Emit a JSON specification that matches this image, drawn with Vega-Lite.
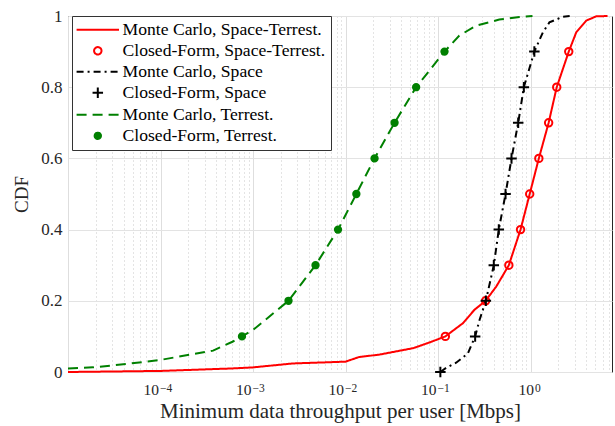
{
  "$schema": "https://vega.github.io/schema/vega-lite/v6.json",
  "width": 544,
  "height": 356,
  "autosize": {"type": "none"},
  "padding": {"left": 68, "top": 16, "right": 3, "bottom": 54},
  "background": "white",
  "config": {
    "font": "Liberation Serif",
    "view": {"stroke": "#262626", "strokeWidth": 1},
    "axis": {"labelFont": "Liberation Serif", "titleFont": "Liberation Serif", "labelColor": "#262626", "titleColor": "#262626", "titleFontWeight": "normal", "domain": false},
    "legend": {"orient": "none", "legendX": 4, "legendY": 0, "labelFont": "Liberation Serif", "labelFontSize": 17.6, "labelColor": "#000000", "symbolStrokeWidth": 2, "strokeColor": "#333333", "fillColor": "white", "padding": 5, "rowPadding": 2, "symbolOffset": 12, "labelOffset": 16, "labelLimit": 400}
  },
  "datasets": {
    "mc": [
      {"series": "Monte Carlo, Space-Terrest.", "x": 0.00001, "y": 0},
      {"series": "Monte Carlo, Space-Terrest.", "x": 0.0001, "y": 0.003},
      {"series": "Monte Carlo, Space-Terrest.", "x": 0.0006, "y": 0.01},
      {"series": "Monte Carlo, Space-Terrest.", "x": 0.001, "y": 0.013},
      {"series": "Monte Carlo, Space-Terrest.", "x": 0.0027, "y": 0.024},
      {"series": "Monte Carlo, Space-Terrest.", "x": 0.01, "y": 0.029},
      {"series": "Monte Carlo, Space-Terrest.", "x": 0.014, "y": 0.042},
      {"series": "Monte Carlo, Space-Terrest.", "x": 0.0234, "y": 0.049},
      {"series": "Monte Carlo, Space-Terrest.", "x": 0.054, "y": 0.067},
      {"series": "Monte Carlo, Space-Terrest.", "x": 0.081, "y": 0.083},
      {"series": "Monte Carlo, Space-Terrest.", "x": 0.12, "y": 0.1},
      {"series": "Monte Carlo, Space-Terrest.", "x": 0.186, "y": 0.137},
      {"series": "Monte Carlo, Space-Terrest.", "x": 0.248, "y": 0.175},
      {"series": "Monte Carlo, Space-Terrest.", "x": 0.327, "y": 0.2},
      {"series": "Monte Carlo, Space-Terrest.", "x": 0.426, "y": 0.24},
      {"series": "Monte Carlo, Space-Terrest.", "x": 0.583, "y": 0.3},
      {"series": "Monte Carlo, Space-Terrest.", "x": 0.78, "y": 0.4},
      {"series": "Monte Carlo, Space-Terrest.", "x": 0.98, "y": 0.5},
      {"series": "Monte Carlo, Space-Terrest.", "x": 1.23, "y": 0.6},
      {"series": "Monte Carlo, Space-Terrest.", "x": 1.57, "y": 0.7},
      {"series": "Monte Carlo, Space-Terrest.", "x": 1.92, "y": 0.8},
      {"series": "Monte Carlo, Space-Terrest.", "x": 2.59, "y": 0.9},
      {"series": "Monte Carlo, Space-Terrest.", "x": 3.12, "y": 0.954},
      {"series": "Monte Carlo, Space-Terrest.", "x": 4.0, "y": 0.987},
      {"series": "Monte Carlo, Space-Terrest.", "x": 5.13, "y": 0.999},
      {"series": "Monte Carlo, Space-Terrest.", "x": 6.8, "y": 1.0},
      {"series": "Monte Carlo, Space", "x": 0.106, "y": 0},
      {"series": "Monte Carlo, Space", "x": 0.123, "y": 0.012},
      {"series": "Monte Carlo, Space", "x": 0.157, "y": 0.026},
      {"series": "Monte Carlo, Space", "x": 0.21, "y": 0.052},
      {"series": "Monte Carlo, Space", "x": 0.252, "y": 0.1},
      {"series": "Monte Carlo, Space", "x": 0.281, "y": 0.146},
      {"series": "Monte Carlo, Space", "x": 0.329, "y": 0.2},
      {"series": "Monte Carlo, Space", "x": 0.401, "y": 0.3},
      {"series": "Monte Carlo, Space", "x": 0.454, "y": 0.4},
      {"series": "Monte Carlo, Space", "x": 0.537, "y": 0.5},
      {"series": "Monte Carlo, Space", "x": 0.623, "y": 0.6},
      {"series": "Monte Carlo, Space", "x": 0.736, "y": 0.7},
      {"series": "Monte Carlo, Space", "x": 0.847, "y": 0.8},
      {"series": "Monte Carlo, Space", "x": 1.1, "y": 0.9},
      {"series": "Monte Carlo, Space", "x": 1.36, "y": 0.954},
      {"series": "Monte Carlo, Space", "x": 1.6, "y": 0.982},
      {"series": "Monte Carlo, Space", "x": 2.24, "y": 0.998},
      {"series": "Monte Carlo, Space", "x": 2.65, "y": 1.0},
      {"series": "Monte Carlo, Terrest.", "x": 0.00001, "y": 0.01},
      {"series": "Monte Carlo, Terrest.", "x": 0.0000186, "y": 0.013},
      {"series": "Monte Carlo, Terrest.", "x": 0.000043, "y": 0.0225},
      {"series": "Monte Carlo, Terrest.", "x": 0.0001, "y": 0.034},
      {"series": "Monte Carlo, Terrest.", "x": 0.00037, "y": 0.06},
      {"series": "Monte Carlo, Terrest.", "x": 0.0006, "y": 0.085},
      {"series": "Monte Carlo, Terrest.", "x": 0.00076, "y": 0.1},
      {"series": "Monte Carlo, Terrest.", "x": 0.001, "y": 0.118},
      {"series": "Monte Carlo, Terrest.", "x": 0.00242, "y": 0.2},
      {"series": "Monte Carlo, Terrest.", "x": 0.00474, "y": 0.3},
      {"series": "Monte Carlo, Terrest.", "x": 0.0083, "y": 0.4},
      {"series": "Monte Carlo, Terrest.", "x": 0.0131, "y": 0.5},
      {"series": "Monte Carlo, Terrest.", "x": 0.0206, "y": 0.6},
      {"series": "Monte Carlo, Terrest.", "x": 0.0339, "y": 0.7},
      {"series": "Monte Carlo, Terrest.", "x": 0.058, "y": 0.8},
      {"series": "Monte Carlo, Terrest.", "x": 0.1175, "y": 0.9},
      {"series": "Monte Carlo, Terrest.", "x": 0.17, "y": 0.945},
      {"series": "Monte Carlo, Terrest.", "x": 0.259, "y": 0.973},
      {"series": "Monte Carlo, Terrest.", "x": 0.46, "y": 0.99},
      {"series": "Monte Carlo, Terrest.", "x": 0.76, "y": 0.997},
      {"series": "Monte Carlo, Terrest.", "x": 1.05, "y": 1.0}
    ],
    "cf": [
      {"series": "Closed-Form, Space-Terrest.", "x": 0.12, "y": 0.1},
      {"series": "Closed-Form, Space-Terrest.", "x": 0.327, "y": 0.2},
      {"series": "Closed-Form, Space-Terrest.", "x": 0.583, "y": 0.3},
      {"series": "Closed-Form, Space-Terrest.", "x": 0.78, "y": 0.4},
      {"series": "Closed-Form, Space-Terrest.", "x": 0.98, "y": 0.5},
      {"series": "Closed-Form, Space-Terrest.", "x": 1.23, "y": 0.6},
      {"series": "Closed-Form, Space-Terrest.", "x": 1.57, "y": 0.7},
      {"series": "Closed-Form, Space-Terrest.", "x": 1.92, "y": 0.8},
      {"series": "Closed-Form, Space-Terrest.", "x": 2.59, "y": 0.9},
      {"series": "Closed-Form, Space", "x": 0.106, "y": 0},
      {"series": "Closed-Form, Space", "x": 0.252, "y": 0.1},
      {"series": "Closed-Form, Space", "x": 0.329, "y": 0.2},
      {"series": "Closed-Form, Space", "x": 0.401, "y": 0.3},
      {"series": "Closed-Form, Space", "x": 0.454, "y": 0.4},
      {"series": "Closed-Form, Space", "x": 0.537, "y": 0.5},
      {"series": "Closed-Form, Space", "x": 0.623, "y": 0.6},
      {"series": "Closed-Form, Space", "x": 0.736, "y": 0.7},
      {"series": "Closed-Form, Space", "x": 0.847, "y": 0.8},
      {"series": "Closed-Form, Space", "x": 1.1, "y": 0.9},
      {"series": "Closed-Form, Terrest.", "x": 0.00076, "y": 0.1},
      {"series": "Closed-Form, Terrest.", "x": 0.00242, "y": 0.2},
      {"series": "Closed-Form, Terrest.", "x": 0.00474, "y": 0.3},
      {"series": "Closed-Form, Terrest.", "x": 0.0083, "y": 0.4},
      {"series": "Closed-Form, Terrest.", "x": 0.0131, "y": 0.5},
      {"series": "Closed-Form, Terrest.", "x": 0.0206, "y": 0.6},
      {"series": "Closed-Form, Terrest.", "x": 0.0339, "y": 0.7},
      {"series": "Closed-Form, Terrest.", "x": 0.058, "y": 0.8},
      {"series": "Closed-Form, Terrest.", "x": 0.1175, "y": 0.9}
    ]
  },
  "encoding": {
    "y": {
      "field": "y", "type": "quantitative",
      "scale": {"domain": [0, 1], "nice": false},
      "axis": {
        "title": "CDF", "titleFontSize": 19, "labelFontSize": 17, "ticks": false,
        "labelPadding": 6, "titlePadding": 9, "values": [0, 0.2, 0.4, 0.6, 0.8, 1], "format": "~g",
        "grid": true, "gridColor": "#e3e3e3"
      }
    }
  },
  "resolve": {"axis": {"x": "independent"}},
  "layer": [
    {
      "data": {"name": "mc"},
      "mark": {"type": "line", "strokeWidth": 2},
      "encoding": {
        "x": {
          "field": "x", "type": "quantitative",
          "scale": {"type": "log", "domain": [0.00001, 7.6], "nice": false},
          "axis": {
            "orient": "bottom",
            "title": "Minimum data throughput per user [Mbps]",
            "titleFontSize": 21, "labelFontSize": 15.5, "ticks": false,
            "labelPadding": 10, "titlePadding": 3, "labelOverlap": false, "labelFlush": false,
            "labelAlign": "right",
            "labelOffset": {"condition": {"test": "datum.value == 1", "value": 3}, "value": -2},
            "values": [0.00001,0.00002,0.00003,0.00004,0.00005,0.00006,0.00007,0.00008,0.00009,0.0001,0.0002,0.0003,0.0004,0.0005,0.0006,0.0007,0.0008,0.0009,0.001,0.002,0.003,0.004,0.005,0.006,0.007,0.008,0.009,0.01,0.02,0.03,0.04,0.05,0.06,0.07,0.08,0.09,0.1,0.2,0.3,0.4,0.5,0.6,0.7,0.8,0.9,1,2,3,4,5,6,7],
            "labelExpr": "(datum.value == 0.0001 || datum.value == 0.001 || datum.value == 0.01 || datum.value == 0.1 || datum.value == 1) ? '10' : ''",
            "grid": true,
            "gridColor": {"condition": {"test": "datum.value == 0.00001 || datum.value == 0.0001 || datum.value == 0.001 || datum.value == 0.01 || datum.value == 0.1 || datum.value == 1", "value": "#dedede"}, "value": "#c8c8c8"},
            "gridDash": {"condition": {"test": "datum.value == 0.00001 || datum.value == 0.0001 || datum.value == 0.001 || datum.value == 0.01 || datum.value == 0.1 || datum.value == 1", "value": []}, "value": [1, 3]}
          }
        },
        "stroke": {"field": "series", "type": "nominal", "legend": {"title": null},
          "scale": {"domain": ["Monte Carlo, Space-Terrest.", "Closed-Form, Space-Terrest.", "Monte Carlo, Space", "Closed-Form, Space", "Monte Carlo, Terrest.", "Closed-Form, Terrest."],
                    "range": ["#ff0000", "#ff0000", "#000000", "#000000", "#008000", "#008000"]}},
        "strokeDash": {"field": "series", "type": "nominal", "legend": {"title": null},
          "scale": {"domain": ["Monte Carlo, Space-Terrest.", "Closed-Form, Space-Terrest.", "Monte Carlo, Space", "Closed-Form, Space", "Monte Carlo, Terrest.", "Closed-Form, Terrest."],
                    "range": [[1, 0], [1, 0], [7, 4, 2, 4], [1, 0], [10, 6], [1, 0]]}}
      }
    },
    {
      "data": {"name": "cf"},
      "mark": {"type": "point", "strokeWidth": 2, "opacity": 1},
      "encoding": {
        "x": {
          "field": "x", "type": "quantitative",
          "axis": {
            "orient": "bottom", "title": null, "grid": false, "ticks": false,
            "labelFontSize": 11.5, "labelPadding": 10, "labelDy": -4, "labelAlign": "left",
            "labelOffset": {"condition": {"test": "datum.value == 1", "value": 4}, "value": -1},
            "labelOverlap": false, "labelFlush": false,
            "values": [0.0001, 0.001, 0.01, 0.1, 1],
            "labelExpr": "datum.value == 0.0001 ? '−4' : datum.value == 0.001 ? '−3' : datum.value == 0.01 ? '−2' : datum.value == 0.1 ? '−1' : '0'"
          }
        },
        "stroke": {"field": "series", "type": "nominal", "legend": {"title": null}},
        "fill": {"field": "series", "type": "nominal", "legend": {"title": null},
          "scale": {"domain": ["Monte Carlo, Space-Terrest.", "Closed-Form, Space-Terrest.", "Monte Carlo, Space", "Closed-Form, Space", "Monte Carlo, Terrest.", "Closed-Form, Terrest."],
                    "range": ["transparent", "transparent", "transparent", "transparent", "transparent", "#008000"]}},
        "shape": {"field": "series", "type": "nominal", "legend": {"title": null},
          "scale": {"domain": ["Monte Carlo, Space-Terrest.", "Closed-Form, Space-Terrest.", "Monte Carlo, Space", "Closed-Form, Space", "Monte Carlo, Terrest.", "Closed-Form, Terrest."],
                    "range": ["M-3,0L3,0", "circle", "M-3,0L3,0", "M-1,0L1,0M0,-1L0,1", "M-3,0L3,0", "circle"]}},
        "size": {"field": "series", "type": "nominal", "legend": {"title": null},
          "scale": {"type": "ordinal", "domain": ["Monte Carlo, Space-Terrest.", "Closed-Form, Space-Terrest.", "Monte Carlo, Space", "Closed-Form, Space", "Monte Carlo, Terrest.", "Closed-Form, Terrest."],
                    "range": [200, 55, 200, 110, 200, 40]}}
      }
    }
  ]
}
